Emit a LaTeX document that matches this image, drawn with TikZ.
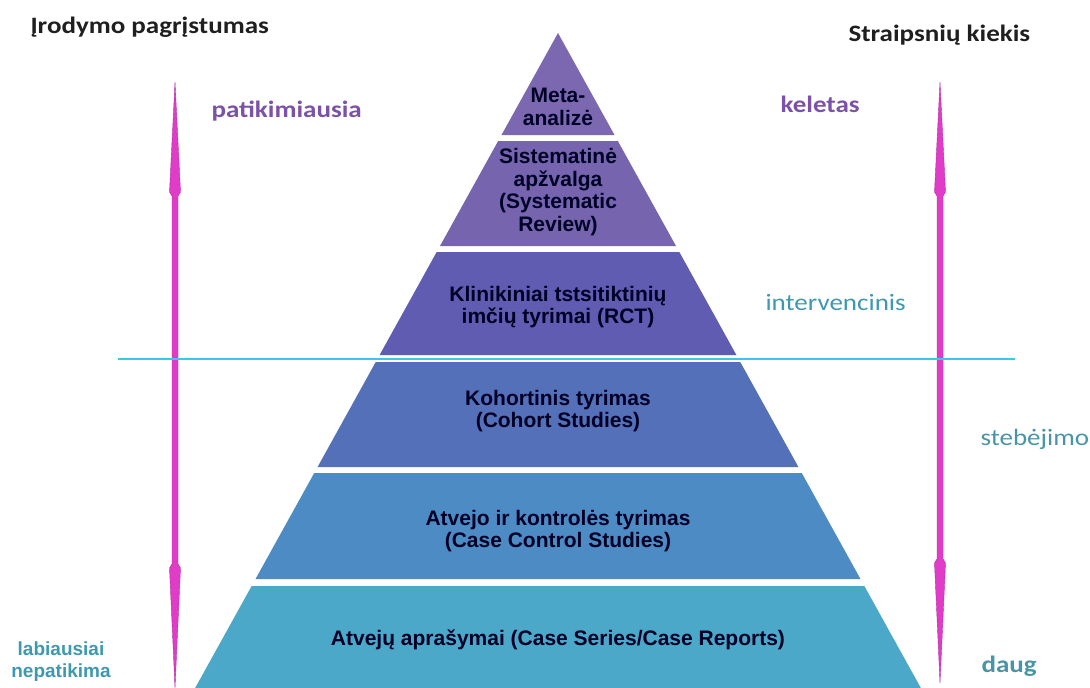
\documentclass[tikz,border=0pt]{standalone}
\usepackage{fontspec}
\usepackage{tikz}
\usetikzlibrary{positioning}
\setmainfont{Liberation Sans}
\newfontfamily\calfont[FakeStretch=1.15]{Carlito}
\definecolor{metacol}{HTML}{7C68B0}
\definecolor{syscol}{HTML}{7664AE}
\definecolor{rctcol}{HTML}{5F5CB2}
\definecolor{cohcol}{HTML}{5470B8}
\definecolor{casecol}{HTML}{4D8BC4}
\definecolor{repcol}{HTML}{4BA8C8}
\definecolor{levpurple}{HTML}{7B52A8}
\definecolor{levteal}{HTML}{3E98B0}
\definecolor{pinkarr}{HTML}{E03CC8}
\definecolor{splitline}{HTML}{38C8E8}

\begin{document}
\begin{tikzpicture}[x=1pt, y=-1pt,
        layertext/.style={font=\bfseries\fontsize{21}{22.8}\selectfont, text=black!85!blue, align=center},
        evarrow/.style={fill=pinkarr, draw=pinkarr!80!black, line width=0.4pt}]
      \tikzstyle{heading} = [font=\calfont\bfseries\fontsize{23.5}{26}\selectfont, text=black!88, anchor=base west]
      \tikzstyle{purplelab} = [font=\calfont\bfseries\fontsize{23.5}{26}\selectfont, text=levpurple, anchor=base west]
      \tikzstyle{teallab} = [font=\calfont\fontsize{23.5}{26}\selectfont, text=levteal, anchor=base west]
      \useasboundingbox (0,0) rectangle (1090,688);
      % pyramid layers, apex (558,33), slope 0.554
      \foreach \ytop/\ybot/\col in {33/135/metacol, 141/246/syscol, 252/355/rctcol,
                                    362/467/cohcol, 473/579/casecol, 586/688/repcol}
        \fill[\col] ({558-0.554*(\ytop-33)},\ytop) -- ({558+0.554*(\ytop-33)},\ytop)
          -- ({558+0.554*(\ybot-33)},\ybot) -- ({558-0.554*(\ybot-33)},\ybot) -- cycle;
      \node (meta) [layertext] at (558,107) {Meta-\\analizė};
      \node (sys) [layertext] at (558,192) {Sistematinė\\apžvalga\\(Systematic\\Review)};
      \node (rct) [layertext] at (558,307) {Klinikiniai tstsitiktinių\\imčių tyrimai (RCT)};
      \node (cohort) [layertext] at (558,411) {Kohortinis tyrimas\\(Cohort Studies)};
      \node (casectl) [layertext] at (558,531) {Atvejo ir kontrolės tyrimas\\(Case Control Studies)};
      \node (casereps) [layertext] at (558,640) {Atvejų aprašymai (Case Series/Case Reports)};
      % long thin double arrows on both sides
      \foreach \ax/\atop/\abot in {175/82/688, 940/82/683}
        \filldraw[evarrow] (\ax,\atop) -- (\ax+5.5,\atop+110) -- (\ax+3,\atop+114)
          -- (\ax+3,\abot-124) -- (\ax+5.5,\abot-120) -- (\ax,\abot)
          -- (\ax-5.5,\abot-120) -- (\ax-3,\abot-124) -- (\ax-3,\atop+114)
          -- (\ax-5.5,\atop+110) -- cycle;
      % split intervencinis / stebejimo
      \coordinate (splitl) at (118,359);
      \coordinate (splitr) at (1015,359);
      \draw[splitline, line width=2pt] (splitl) -- (splitr);
      % labels
      \node (evid) [heading] at (27,33) {Įrodymo pagrįstumas};
      \node (count) [heading] at (845,41) {Straipsnių kiekis};
      \node (reliable) [purplelab] at (208,117) {patikimiausia};
      \node (few) [purplelab] at (777,112) {keletas};
      \node (interv) [teallab] at (762,310) {intervencinis};
      \node (observ) [teallab, text=levteal!85!gray] at (977,445) {stebėjimo};
      \node (many) [purplelab, text=levteal!85!gray] at (978,672) {daug};
      \node (unreliable) [font=\bfseries\fontsize{19}{22}\selectfont, text=levteal, align=center] at (61,662) {labiausiai\\nepatikima};
    \end{tikzpicture}
\end{document}
